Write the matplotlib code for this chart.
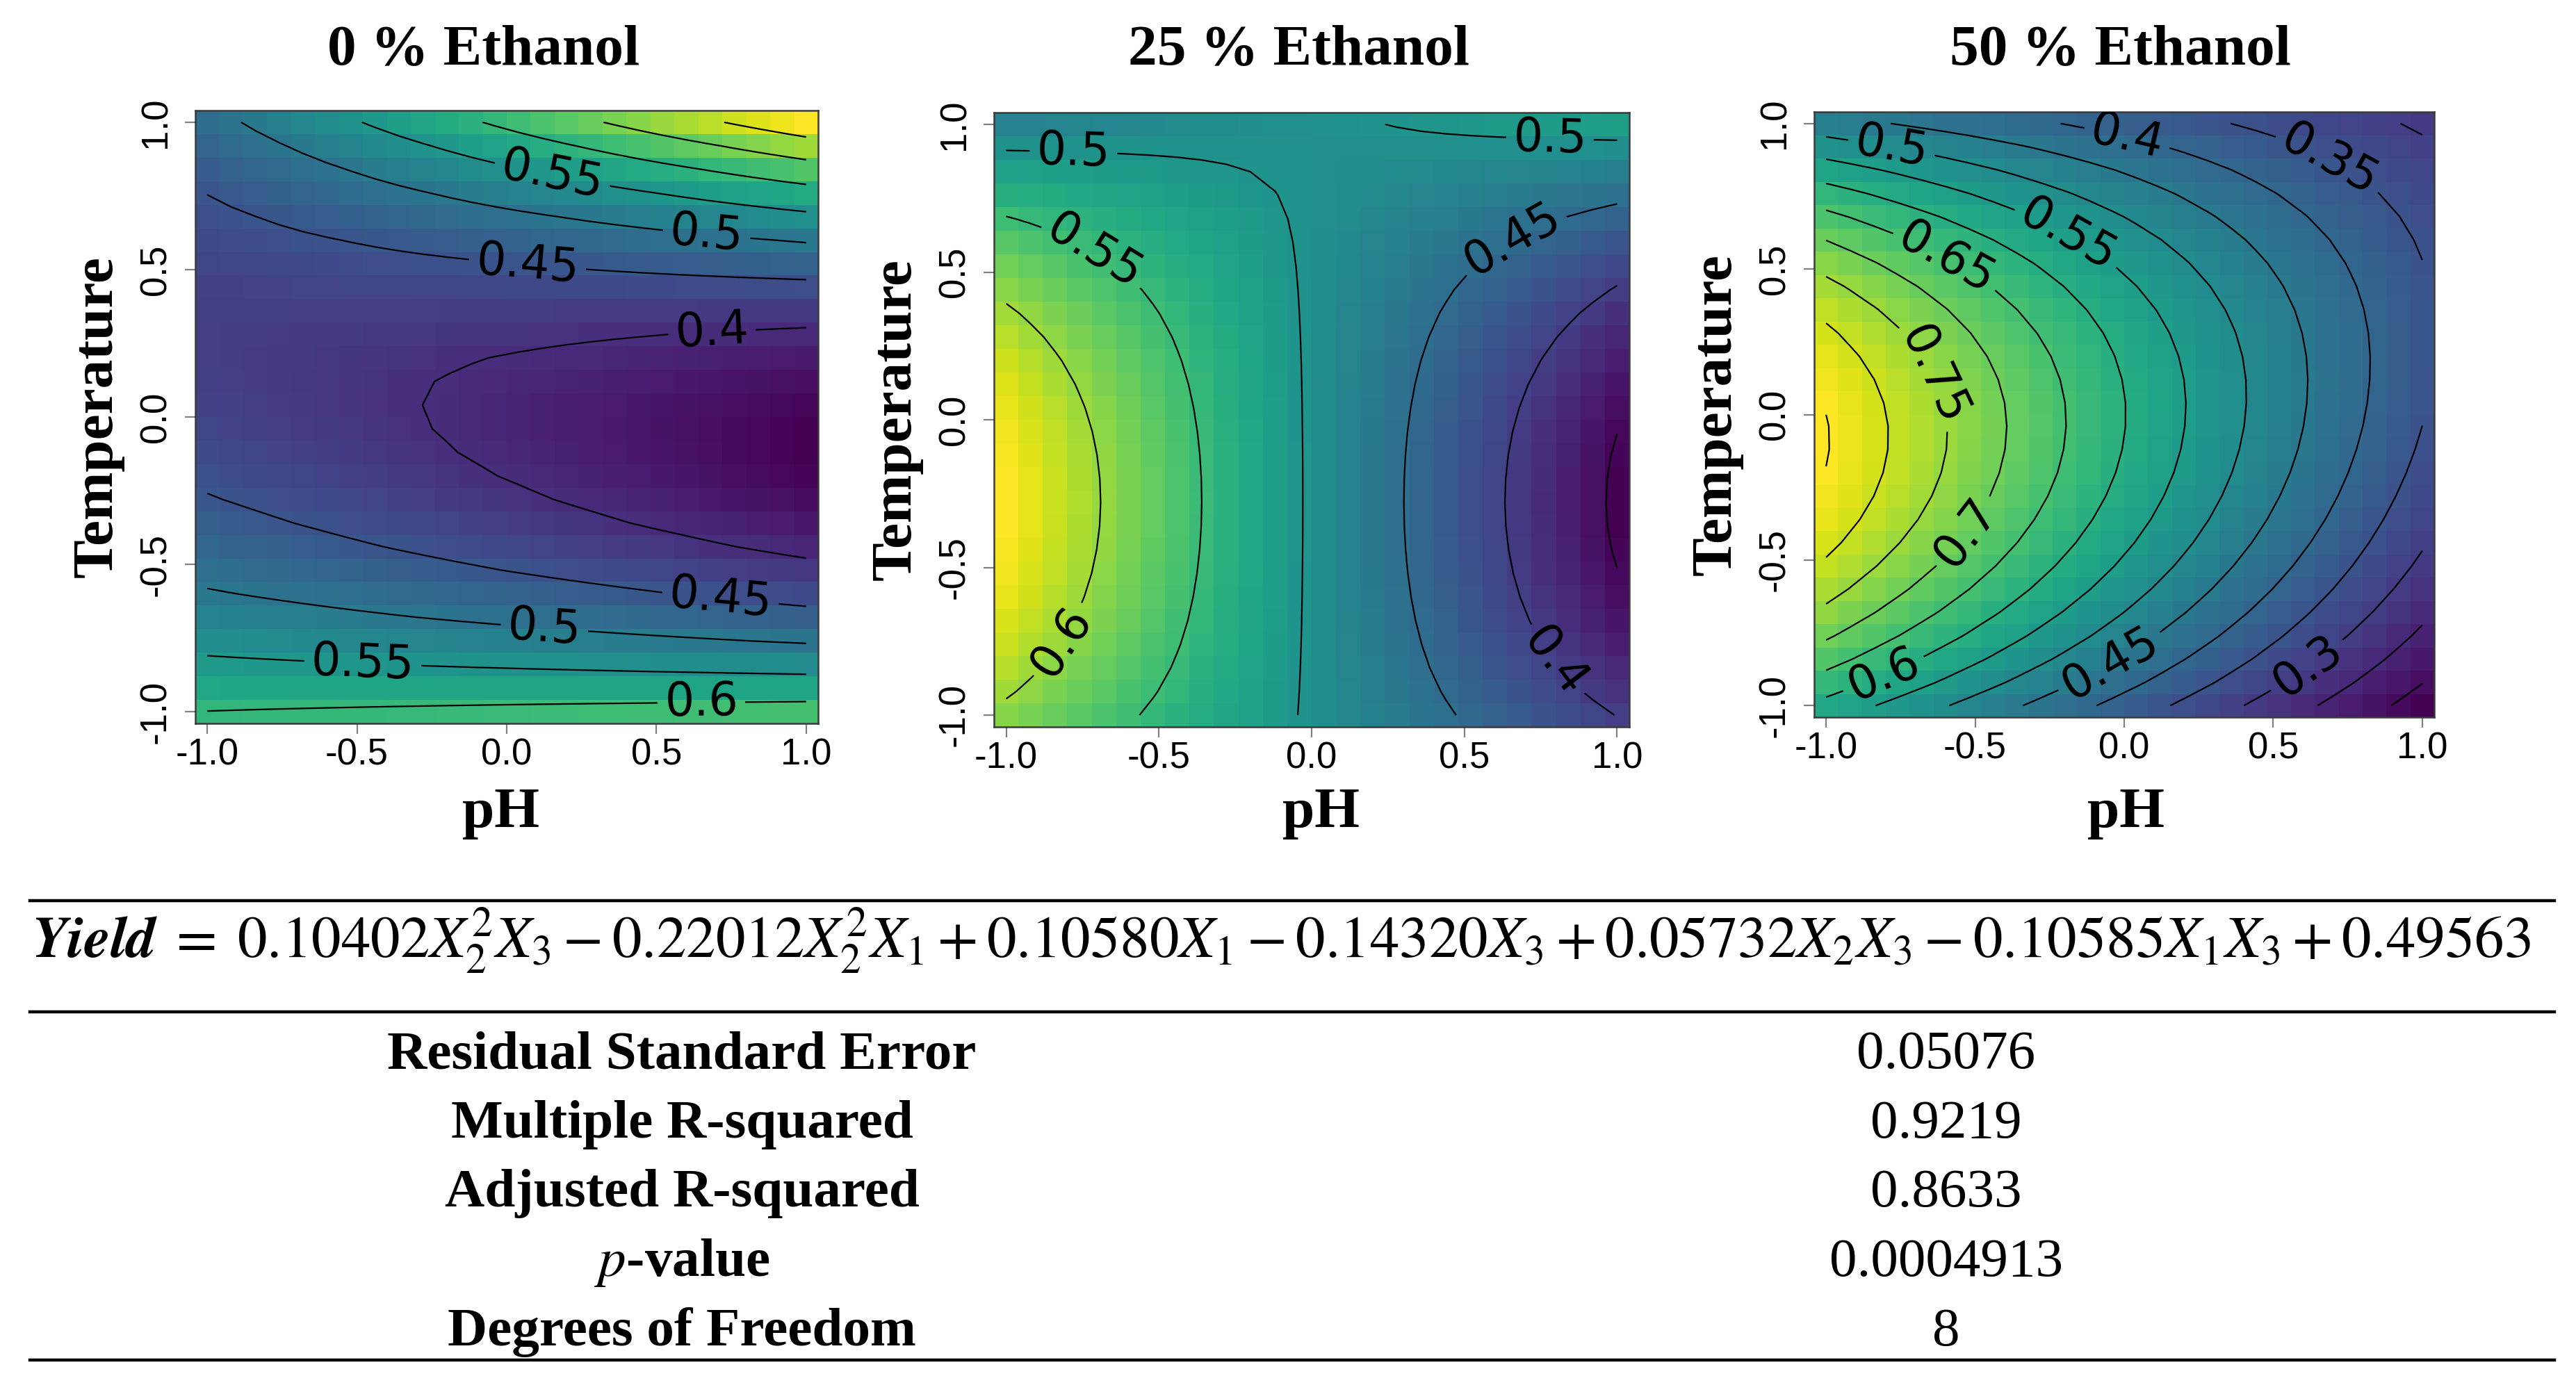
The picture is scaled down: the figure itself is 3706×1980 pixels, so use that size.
import numpy as np
import matplotlib
matplotlib.use('Agg')
import matplotlib.pyplot as plt
from matplotlib.lines import Line2D


#%% Values

# Fitted yield model shown under the plots
# X1 = ethanol, X2 = temperature, X3 = pH (coded -1 .. 1)
b_x2sq_x3 = 0.10402
b_x2sq_x1 = -0.22012
b_x1 = 0.10580
b_x3 = -0.14320
b_x2_x3 = 0.05732
b_x1_x3 = -0.10585
b_0 = 0.49563

panel_titles = ['0 % Ethanol', '25 % Ethanol', '50 % Ethanol']
ethanol_level = [-1, 0, 1]

# 26 x 26 grid the image was drawn on (step 0.08)
ph_vals = np.linspace(-1, 1, 26)
temp_vals = np.linspace(-1, 1, 26)

contour_levels = [0.15, 0.2, 0.25, 0.3, 0.35, 0.4, 0.45, 0.5,
                  0.55, 0.6, 0.65, 0.7, 0.75, 0.8, 0.85]

tick_vals = [-1.0, -0.5, 0.0, 0.5, 1.0]
tick_text = ['-1.0', '-0.5', '0.0', '0.5', '1.0']

eq_text = (r'$\mathbf{Yield}\;=\;0.10402X_2^2X_3 - 0.22012X_2^2X_1 + 0.10580X_1'
           r' - 0.14320X_3 + 0.05732X_2X_3 - 0.10585X_1X_3 + 0.49563$')

stat_names = ['Residual Standard Error', 'Multiple R-squared',
              'Adjusted R-squared', '$p$-value', 'Degrees of Freedom']
stat_values = ['0.05076', '0.9219', '0.8633', '0.0004913', '8']


#%% Layout (pixels of the 3706 x 1980 picture)

W, H = 3706, 1980
DPI = 200

axes_px = [(281, 159, 1177, 1041), (1430, 162, 2344, 1046), (2610, 161, 3502, 1032)]
title_x = [696, 1868, 3050]
ph_x = [721, 1900, 3058]

# where the contour labels sit: (level, pH, temperature)
label_spots = [
    [(0.55, 0.153, 0.828), (0.5, 0.668, 0.621), (0.45, 0.07, 0.522),
     (0.4, 0.686, 0.289), (0.45, 0.714, -0.614), (0.5, 0.126, -0.713),
     (0.55, -0.481, -0.84), (0.6, 0.65, -0.965)],
    [(0.5, -0.78, 0.89), (0.5, 0.78, 0.946), (0.55, -0.743, 0.512),
     (0.45, 0.689, 0.55), (0.6, -0.852, -0.731), (0.4, 0.84, -0.785)],
    [(0.5, -0.783, 0.904), (0.4, 0.007, 0.94), (0.35, 0.667, 0.835),
     (0.55, -0.207, 0.584), (0.65, -0.615, 0.502), (0.75, -0.70, 0.1),
     (0.7, -0.569, -0.378), (0.6, -0.802, -0.904), (0.45, -0.049, -0.849),
     (0.3, 0.611, -0.859)],
]

plt.rcParams['font.family'] = 'Liberation Sans'
plt.rcParams['mathtext.fontset'] = 'custom'
plt.rcParams['mathtext.rm'] = 'STIXGeneral'
plt.rcParams['mathtext.it'] = 'STIXGeneral:italic'
plt.rcParams['mathtext.bf'] = 'STIXGeneral:italic:bold'

serif = {'family': 'Liberation Serif', 'weight': 'bold'}


def yield_model(x1, x2, x3):
    return (b_x2sq_x3 * x2**2 * x3 + b_x2sq_x1 * x2**2 * x1 + b_x1 * x1
            + b_x3 * x3 + b_x2_x3 * x2 * x3 + b_x1_x3 * x1 * x3 + b_0)


def fmt_level(v):
    return ('%.2f' % v).rstrip('0')


fig = plt.figure(figsize=(W / DPI, H / DPI), dpi=DPI)

#%% The three heat maps

P, T = np.meshgrid(ph_vals, temp_vals)
for i in range(3):
    l, t, r, b = axes_px[i]
    ax = fig.add_axes([l / W, 1 - b / H, (r - l) / W, (b - t) / H])

    Z = yield_model(ethanol_level[i], T, P)
    ax.pcolormesh(ph_vals, temp_vals, Z, cmap='viridis', shading='nearest',
                  vmin=Z.min(), vmax=Z.max())

    # one contour set per level so each can get its own labels
    for lev in contour_levels:
        if lev < Z.min() or lev > Z.max():
            continue
        cs = ax.contour(ph_vals, temp_vals, Z, levels=[lev],
                        colors='black', linewidths=0.8)
        spots = [(x, y) for lv, x, y in label_spots[i] if abs(lv - lev) < 1e-6]
        if spots:
            with plt.rc_context({'font.family': 'DejaVu Sans'}):
                cs.clabel(manual=spots, inline=True, inline_spacing=10,
                          fmt=fmt_level, fontsize=24)

    ax.set_xlim(-1.04, 1.04)
    ax.set_ylim(-1.04, 1.04)
    ax.set_xticks(tick_vals)
    ax.set_xticklabels(tick_text)
    ax.set_yticks(tick_vals)
    ax.set_yticklabels(tick_text, rotation=90, va='center')
    ax.tick_params(direction='out', length=5.4, width=0.8, color='#808080',
                   labelsize=19, labelcolor='black')
    ax.tick_params(axis='x', pad=2)
    ax.tick_params(axis='y', pad=6)
    for s in ax.spines.values():
        s.set_color('#3a3a3a')
        s.set_linewidth(0.9)

    fig.text(title_x[i] / W, 1 - 93 / H, panel_titles[i], ha='center',
             va='baseline', fontsize=30, **serif)
    fig.text(ph_x[i] / W, 1 - 1190 / H, 'pH', ha='center', va='baseline',
             fontsize=30, **serif)
    fig.text((l - 140) / W, 1 - ((t + b) / 2) / H, 'Temperature', rotation=90,
             ha='center', va='center', fontsize=30, **serif)

#%% Model table

for yy in [1296, 1456, 1957]:
    fig.add_artist(Line2D([43 / W, 3675 / W], [1 - yy / H, 1 - yy / H],
                          color='black', lw=1.6))

eq = fig.text(1843 / W, 1 - 1378 / H, eq_text, ha='center', va='baseline', fontsize=27)
fig.canvas.draw()
bb = eq.get_window_extent()
eq.set_fontsize(27 * 3596 / bb.width)

row_base = [1537, 1637, 1736, 1836, 1936]
for name, val, yb in zip(stat_names, stat_values, row_base):
    fig.text(981 / W, 1 - yb / H, name, ha='center', va='baseline', fontsize=28.5, **serif)
    fig.text(2800 / W, 1 - yb / H, val, ha='center', va='baseline', fontsize=28.5,
             family='Liberation Serif')

fig.savefig('out.png', dpi=DPI)
